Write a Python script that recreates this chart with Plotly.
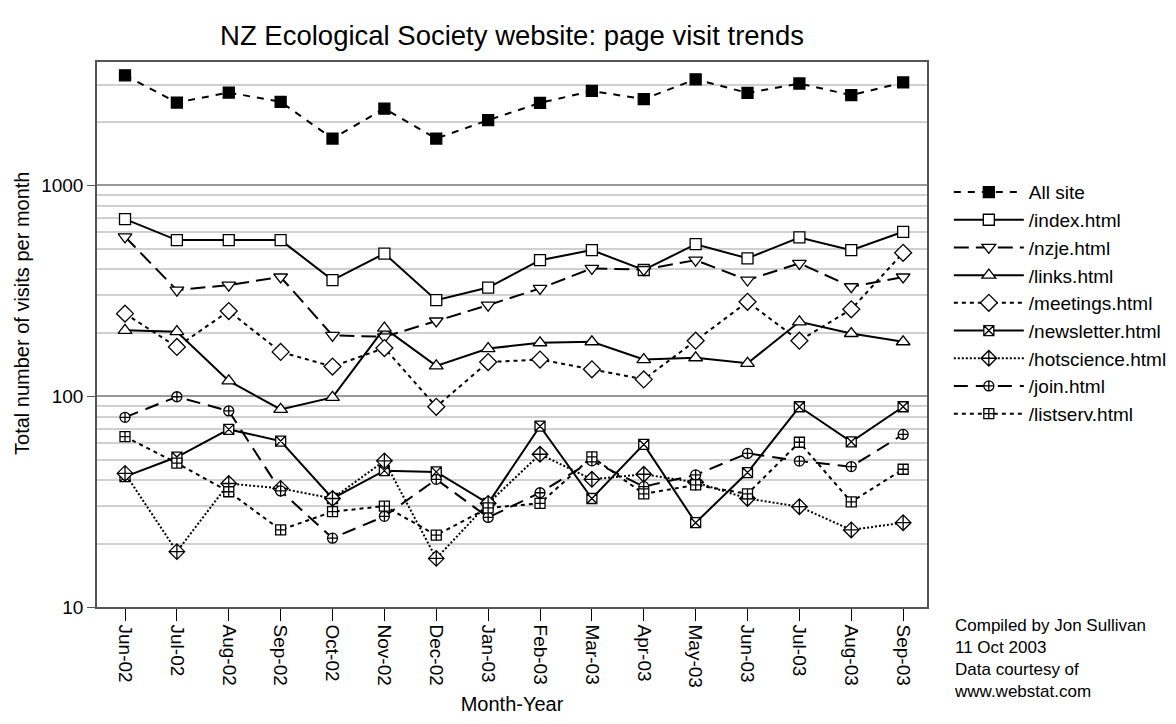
import plotly.graph_objects as go

months = ["Jun-02", "Jul-02", "Aug-02", "Sep-02", "Oct-02", "Nov-02", "Dec-02", "Jan-03",
          "Feb-03", "Mar-03", "Apr-03", "May-03", "Jun-03", "Jul-03", "Aug-03", "Sep-03"]

all_site = [3318, 2465, 2749, 2483, 1664, 2307, 1664, 2033, 2455, 2797, 2558, 3177, 2737, 3034, 2671, 3069]
index_html = [690, 549, 549, 549, 355, 474, 285, 327, 441, 492, 396, 525, 450, 565, 492, 601]
nzje_html = [569, 318, 336, 367, 194, 191, 227, 270, 324, 403, 398, 441, 355, 426, 330, 367]
links_html = [205, 202, 118, 86.5, 98.6, 210, 139, 168, 179, 181, 149, 152, 143, 225, 198, 181]
meetings_html = [246, 171, 253, 162, 138, 169, 89, 145, 149, 134, 120, 183, 280, 183, 258, 478]
newsletter_html = [41.5, 51.4, 69.5, 61.2, 32.7, 44.3, 43.7, 31.0, 72, 32.7, 59, 25.1, 43.4, 89, 60.7, 89]
hotscience_html = [43, 18.3, 38.5, 36.5, 32.7, 49.3, 17.0, 31.0, 53, 40.3, 42.6, 39, 32.7, 29.9, 23.2, 25.1]
join_html = [79.3, 99.3, 85, 35.5, 21.2, 26.9, 40.3, 26.6, 34.8, 49.3, 37.2, 42.3, 53.5, 49.2, 46.3, 65.8]
listserv_html = [64.2, 48.1, 35.2, 23.2, 28.3, 30.1, 21.9, 29.5, 31.0, 51.5, 34.4, 37.9, 34.4, 60.4, 31.5, 45]

series_names = ["All site", "/index.html", "/nzje.html", "/links.html", "/meetings.html",
                "/newsletter.html", "/hotscience.html", "/join.html", "/listserv.html"]
series_values = [all_site, index_html, nzje_html, links_html, meetings_html,
                 newsletter_html, hotscience_html, join_html, listserv_html]

styles = [
    dict(symbol="square", fill="black", dash="7px,7px", size=11),
    dict(symbol="square", fill="white", dash="solid", size=11),
    dict(symbol="triangle-down", fill="white", dash="15px,7px", size=12),
    dict(symbol="triangle-up", fill="white", dash="solid", size=12),
    dict(symbol="diamond", fill="white", dash="4px,4px", size=13),
    dict(symbol="square-x", fill="white", dash="solid", size=10),
    dict(symbol="diamond-cross", fill="white", dash="2px,2px", size=12),
    dict(symbol="circle-cross", fill="white", dash="14px,8px", size=10),
    dict(symbol="square-cross", fill="white", dash="4px,4px", size=10),
]

FONT = "Liberation Sans, Arial, Helvetica, sans-serif"

fig = go.Figure()
for name, vals, st in zip(series_names, series_values, styles):
    fig.add_trace(go.Scatter(
        x=months, y=vals, name=name, mode="lines+markers",
        line=dict(color="black", width=2, dash=st["dash"]),
        marker=dict(symbol=st["symbol"], size=st["size"], color=st["fill"],
                    line=dict(color="black", width=1.3)),
    ))

minor_vals = [m * 10 ** e for e in (1, 2, 3) for m in range(2, 10)]

# page body adds an 8px offset, so the figure is drawn 8px smaller and margins shifted
fig.update_layout(
    width=1168, height=716,
    margin=dict(l=89, r=249, t=54, b=117),
    paper_bgcolor="white", plot_bgcolor="white",
    font=dict(family=FONT, size=19, color="black"),
    title=dict(text="NZ Ecological Society website: page visit trends",
               x=0.5, xref="paper", xanchor="center", y=0.962, yanchor="middle",
               font=dict(size=27.5, family=FONT, color="black")),
    showlegend=True,
    legend=dict(xref="container", yref="container", x=0.8055, xanchor="left",
                y=0.7693, yanchor="top",
                font=dict(size=19, family=FONT), bgcolor="rgba(0,0,0,0)",
                itemwidth=70, tracegroupgap=0),
    annotations=[
        dict(text="Compiled by Jon Sullivan<br>11 Oct 2003<br>Data courtesy of<br>www.webstat.com",
             xref="paper", yref="paper", x=1.030, y=-0.0134, xanchor="left", yanchor="top",
             align="left", showarrow=False, font=dict(size=17, family=FONT, color="black")),
        dict(text="Total number of visits per month", textangle=-90,
             xref="paper", yref="paper", x=-0.0904, y=0.5394, xanchor="center", yanchor="middle",
             showarrow=False, font=dict(size=20, family=FONT, color="black")),
    ],
)

fig.update_xaxes(
    type="category", range=[-0.54, 15.46], automargin=False,
    showline=True, linecolor="#555555", linewidth=1.5, mirror=True,
    ticks="outside", ticklen=12, tickwidth=1.3, tickcolor="black",
    tickangle=90, tickfont=dict(size=19),
    showgrid=False, zeroline=False,
    title=dict(text="Month-Year", font=dict(size=20), standoff=10),
)

fig.update_yaxes(
    type="log", range=[1, 3.584], automargin=False,
    tickvals=[10, 100, 1000], ticktext=["10", "100", "1000"],
    showline=True, linecolor="#555555", linewidth=1.5, mirror=True,
    ticks="outside", ticklen=8, tickwidth=1.3, tickcolor="#555555",
    tickfont=dict(size=19),
    showgrid=True, gridcolor="#999999", gridwidth=1.5,
    minor=dict(tickvals=minor_vals, showgrid=True, gridcolor="#d0d0d0", gridwidth=1.5, ticks=""),
    zeroline=False,
)

fig.write_html("out.html")
